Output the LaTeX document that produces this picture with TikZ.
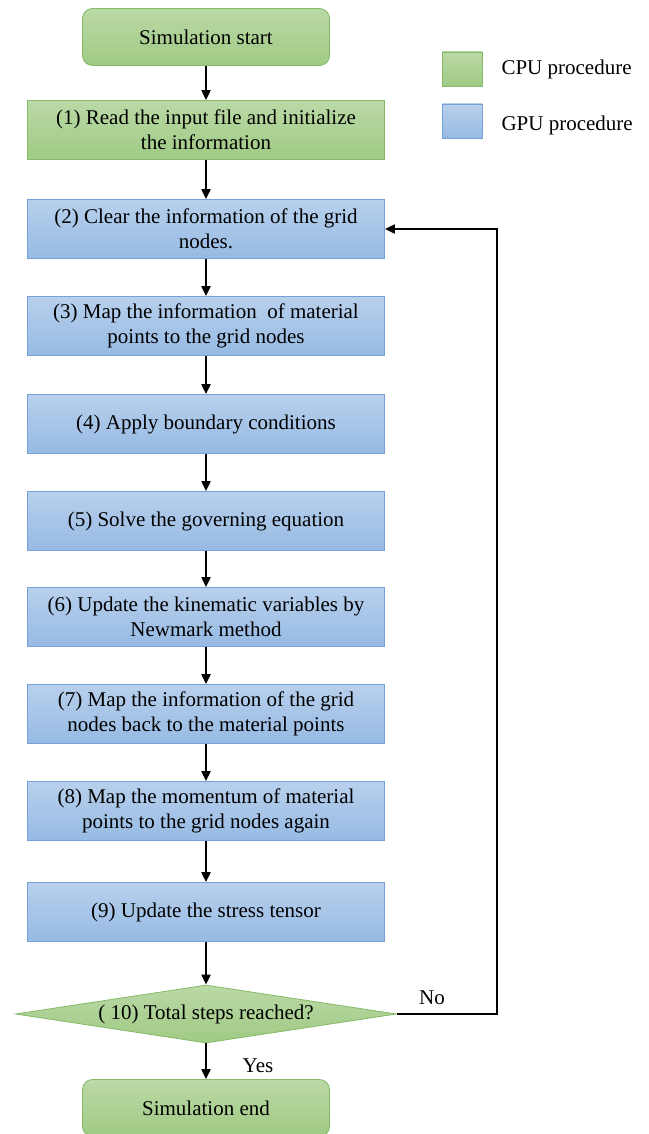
\documentclass[tikz,border=0pt]{standalone}
\usepackage{fontspec}
\setmainfont{Liberation Serif}
\usepackage{tikz}
\usetikzlibrary{positioning, shapes.geometric, arrows.meta, calc}
\definecolor{cpuTop}{RGB}{186, 217, 166}
\definecolor{cpuBot}{RGB}{160, 202, 132}
\definecolor{cpuLine}{RGB}{132, 186, 104}
\definecolor{gpuTop}{RGB}{184, 208, 236}
\definecolor{gpuBot}{RGB}{150, 186, 228}
\definecolor{gpuLine}{RGB}{118, 160, 216}
\tikzset{
    base/.style={
        font=\fontsize{21}{25}\selectfont,
        align=center,
        text=black
    },
    terminal/.style={
        base,
        rectangle,
        rounded corners=10pt,
        draw=cpuLine,
        thick,
        top color=cpuTop,
        bottom color=cpuBot,
        minimum width=247pt,
        minimum height=57pt
    },
    cpustep/.style={
        base,
        rectangle,
        draw=cpuLine,
        thick,
        top color=cpuTop,
        bottom color=cpuBot,
        minimum width=357pt,
        minimum height=59pt,
        inner sep=2pt
    },
    gpustep/.style={
        base,
        rectangle,
        draw=gpuLine,
        thick,
        top color=gpuTop,
        bottom color=gpuBot,
        minimum width=357pt,
        minimum height=59pt,
        inner sep=2pt
    },
    decision/.style={
        base,
        diamond,
        aspect=6.5,
        draw=cpuLine,
        thick,
        top color=cpuTop,
        bottom color=cpuBot,
        inner sep=0pt,
        minimum width=381pt,
        minimum height=58pt
    },
    flow/.style={
        -{Triangle[length=10pt, width=9pt]},
        line width=2pt,
        color=black
    },
    tag/.style={
        base
    }
}

\begin{document}
\begin{tikzpicture}[x=1pt, y=-1pt]
    \useasboundingbox (0,0) rectangle (648,1134);

    % Steps
    \node[terminal] (start) at (206,37) {Simulation start};
    \node[cpustep] (s1) at (206,130) {(1) Read the input file and initialize\\the information};
    \node[gpustep] (s2) at (206,229) {(2) Clear the information of the grid\\nodes.};
    \node[gpustep] (s3) at (206,326) {(3) Map the information\ \ of material\\points to the grid nodes};
    \node[gpustep] (s4) at (206,424) {(4) Apply boundary conditions};
    \node[gpustep] (s5) at (206,521) {(5) Solve the governing equation};
    \node[gpustep] (s6) at (206,617) {(6) Update the kinematic variables by\\Newmark method};
    \node[gpustep] (s7) at (206,714) {(7) Map the information of the grid\\nodes back to the material points};
    \node[gpustep] (s8) at (206,811) {(8) Map the momentum of material\\points to the grid nodes again};
    \node[gpustep] (s9) at (206,912) {(9) Update the stress tensor};
    \node[decision] (check) at (206,1014) {( 10) Total steps reached?};
    \node[terminal] (stop) at (206,1108) {Simulation end};

    % Legend
    \node[cpustep, minimum width=40pt, minimum height=34pt] (cpuKey) at (462,69) {};
    \node[gpustep, minimum width=40pt, minimum height=34pt] (gpuKey) at (462,121) {};
    \node[tag, anchor=west] (cpuText) at (498,69) {CPU procedure};
    \node[tag, anchor=west] (gpuText) at (498,125) {GPU procedure};

    % Connectors
    \draw[flow] (start) -- (s1);
    \draw[flow] (s1) -- (s2);
    \draw[flow] (s2) -- (s3);
    \draw[flow] (s3) -- (s4);
    \draw[flow] (s4) -- (s5);
    \draw[flow] (s5) -- (s6);
    \draw[flow] (s6) -- (s7);
    \draw[flow] (s7) -- (s8);
    \draw[flow] (s8) -- (s9);
    \draw[flow] (s9) -- (check);
    \draw[flow] (check) -- (stop);
    \coordinate (back) at (497,229);
    \draw[flow] (check.east) -| (back) -- (s2.east);

    % Branch labels
    \node[tag] (no) at (432,998) {No};
    \node[tag] (yes) at (258,1066) {Yes};
\end{tikzpicture}
\end{document}
